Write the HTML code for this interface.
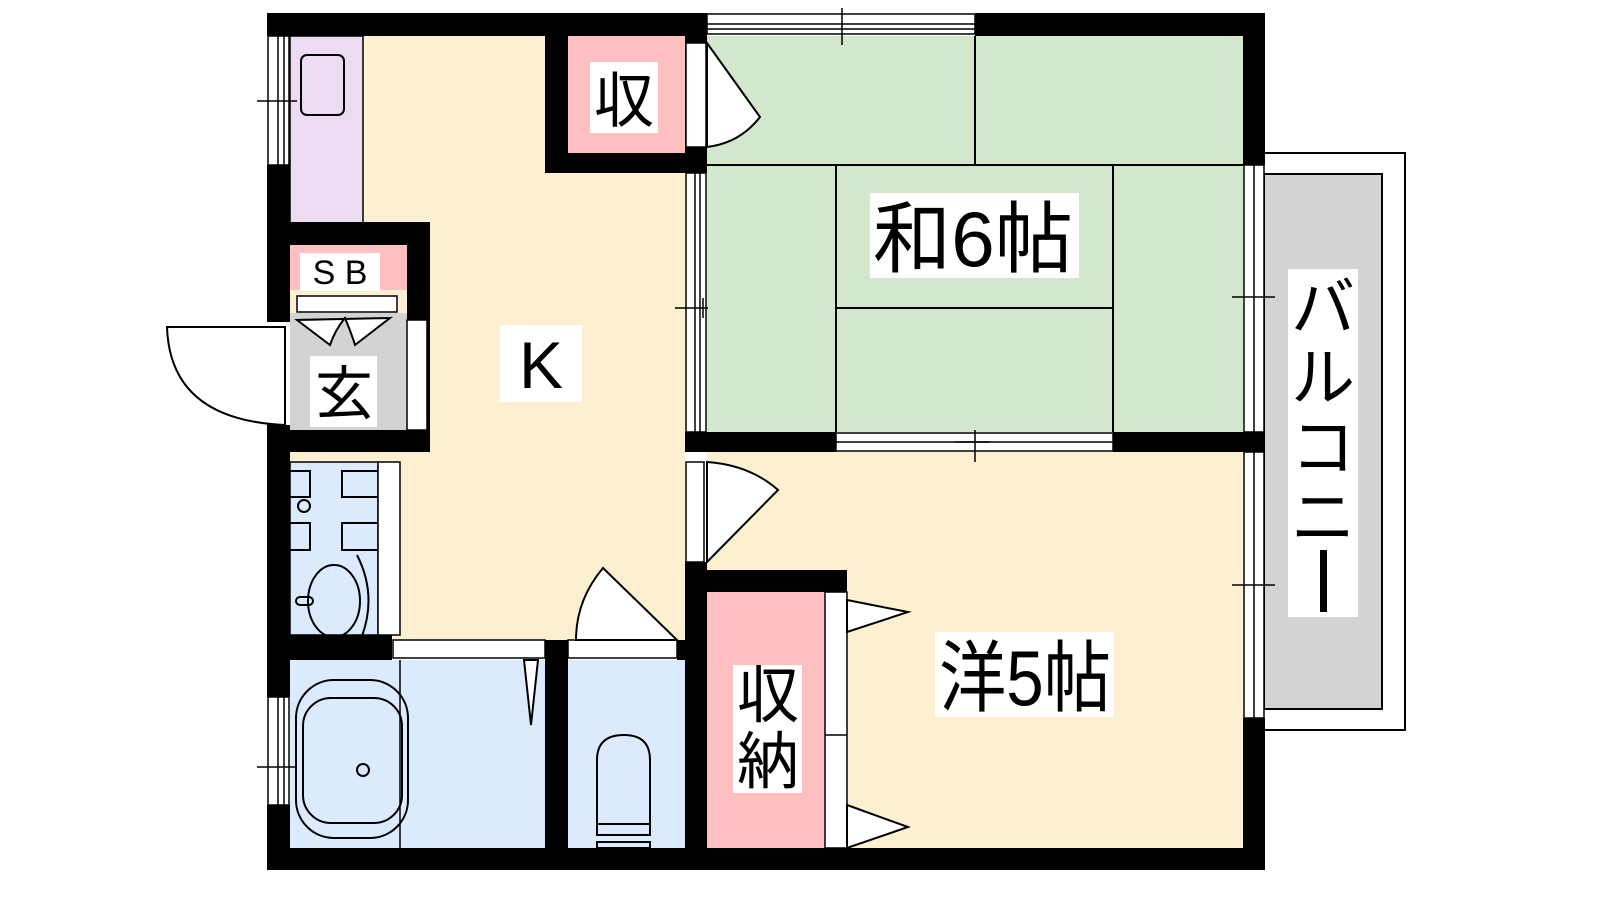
<!DOCTYPE html>
<html><head><meta charset="utf-8"><style>html,body{margin:0;padding:0;background:#fff}svg{display:block}</style></head><body>
<svg width="1600" height="900" viewBox="0 0 1600 900" xmlns="http://www.w3.org/2000/svg" font-family="'Liberation Sans','Noto Sans CJK JP',sans-serif">
<rect width="1600" height="900" fill="#fff"/>
<!-- balcony -->
<rect x="1262" y="153" width="143" height="577" fill="#fff" stroke="#000" stroke-width="2"/>
<rect x="1264" y="174" width="118" height="535" fill="#d3d3d3" stroke="#000" stroke-width="2"/>
<!-- room fills -->
<rect x="290" y="36" width="395" height="605" fill="#fdf0d0"/>
<rect x="707" y="36" width="536" height="396" fill="#d2e7cb"/>
<rect x="707" y="452" width="536" height="396" fill="#fdf0d0"/>
<rect x="290" y="36" width="73" height="189" fill="#ecdcf2" stroke="#000" stroke-width="1.5"/>
<rect x="411" y="55" width="43" height="60" rx="6" fill="none" stroke="#000" stroke-width="2" transform="translate(-110,0)"/>
<!-- tatami lines -->
<g stroke="#000" stroke-width="2">
<line x1="707" y1="165" x2="1243" y2="165"/><line x1="975" y1="36" x2="975" y2="165"/>
<line x1="836" y1="165" x2="836" y2="432"/><line x1="1113" y1="165" x2="1113" y2="432"/>
<line x1="836" y1="308" x2="1113" y2="308"/>
</g>
<!-- walls -->
<g fill="#000">
<rect x="267" y="13" width="440" height="23"/>
<rect x="975" y="13" width="290" height="23"/>
<rect x="1243" y="13" width="22" height="152"/>
<rect x="1243" y="718" width="22" height="152"/>
<rect x="267" y="848" width="998" height="22"/>
<rect x="267" y="165" width="23" height="157"/>
<rect x="267" y="425" width="23" height="272"/>
<rect x="267" y="805" width="23" height="65"/>
<rect x="545" y="36" width="162" height="137"/>
<rect x="267" y="222" width="163" height="23"/>
<rect x="407" y="222" width="23" height="230"/>
<rect x="267" y="430" width="163" height="22"/>
<rect x="685" y="432" width="151" height="20"/>
<rect x="1113" y="432" width="152" height="20"/>
<rect x="685" y="562" width="22" height="286"/>
<rect x="707" y="570" width="140" height="22"/>
<rect x="267" y="635" width="125" height="25"/>
<rect x="545" y="640" width="23" height="208"/>
<rect x="677" y="640" width="8" height="20"/>
</g>
<!-- pink closets -->
<rect x="568" y="36" width="117" height="117" fill="#fdbfbf"/>
<rect x="707" y="592" width="118" height="256" fill="#fdbfbf"/>
<rect x="290" y="245" width="117" height="45" fill="#fdbfbf"/>
<rect x="290" y="313" width="117" height="117" fill="#d3d3d3"/>
<rect x="297" y="296" width="100" height="16" fill="#fff" stroke="#000" stroke-width="1.5"/>
<!-- blue rooms -->
<rect x="290" y="462" width="88" height="173" fill="#dbeafd" stroke="#000" stroke-width="1.5"/>
<rect x="290" y="660" width="255" height="188" fill="#dbeafd"/>
<rect x="568" y="660" width="117" height="188" fill="#dbeafd"/>
<line x1="400" y1="660" x2="400" y2="848" stroke="#000" stroke-width="1.5"/>
<!-- white strips / windows -->
<g fill="#fff" stroke="#000" stroke-width="1.5">
<rect x="707" y="14" width="268" height="20"/>
<rect x="1244" y="165" width="20" height="267"/>
<rect x="1244" y="452" width="20" height="266"/>
<rect x="268" y="36" width="21" height="129"/>
<rect x="268" y="697" width="21" height="108"/>
<rect x="686" y="43" width="20" height="104"/>
<rect x="686" y="173" width="20" height="259"/>
<rect x="836" y="433" width="277" height="18"/>
<rect x="686" y="462" width="18" height="100"/>
<rect x="825" y="592" width="22" height="256"/>
<rect x="268" y="327" width="17" height="98"/>
<rect x="407" y="320" width="20" height="110"/>
<rect x="378" y="462" width="22" height="173"/>
<rect x="393" y="640" width="152" height="18"/>
<rect x="568" y="640" width="109" height="18"/>
</g>
<g stroke="#000" stroke-width="1.5" fill="none">
<line x1="707" y1="24" x2="975" y2="24"/><line x1="707" y1="29" x2="975" y2="29"/>
<line x1="1254" y1="165" x2="1254" y2="432"/><line x1="1254" y1="452" x2="1254" y2="718"/>
<line x1="278" y1="36" x2="278" y2="165"/><line x1="284" y1="36" x2="284" y2="165"/>
<line x1="278" y1="697" x2="278" y2="805"/><line x1="284" y1="697" x2="284" y2="805"/>
<line x1="695" y1="173" x2="695" y2="432"/><line x1="700" y1="173" x2="700" y2="432"/>
<line x1="836" y1="442" x2="1113" y2="442"/>
<line x1="825" y1="735" x2="847" y2="735"/>
<!-- ticks -->
<line x1="842" y1="8" x2="842" y2="45"/>
<line x1="1232" y1="297" x2="1275" y2="297"/><line x1="1232" y1="585" x2="1275" y2="585"/>
<line x1="257" y1="101" x2="297" y2="101"/><line x1="257" y1="767" x2="297" y2="767"/>
<line x1="675" y1="308" x2="708" y2="308"/><line x1="703" y1="298" x2="703" y2="318"/>
<line x1="975" y1="430" x2="975" y2="462"/><line x1="955" y1="442" x2="990" y2="442"/>
</g>
<!-- doors -->
<g fill="#fff" stroke="#000" stroke-width="2">
<path d="M707 43 L760 117 Q740 143 707 147 Z"/>
<path d="M707 462 Q750 465 778 490 L707 562 Z"/>
<path d="M285 327 L167 327 Q170 420 285 425 Z"/>
<path d="M576 640 Q576 600 603 568 L677 640 Z"/>
<path d="M847 600 L908 612 L847 632 Z"/>
<path d="M847 805 L908 827 L847 848 Z"/>
<path d="M297 320 L330 345 Q335 330 345 318 Q352 335 355 345 L390 318 Z"/>
<path d="M524 660 L531 725 L538 660 Z" />
</g>
<!-- fixtures -->
<g fill="none" stroke="#000" stroke-width="2">
<path d="M290 471 H310 V497 H290"/><path d="M378 471 H342 V497 H378"/>
<path d="M290 550 H310 V523 H290"/><path d="M378 550 H342 V523 H378"/>
<circle cx="304" cy="506" r="6"/>
<ellipse cx="334" cy="601" rx="26" ry="36"/>
<path d="M357 555 Q380 600 357 648"/>
<rect x="296" y="597" width="17" height="8" rx="4"/>
<rect x="296" y="680" width="112" height="158" rx="38"/>
<rect x="303" y="698" width="99" height="125" rx="28"/>
<circle cx="363" cy="770" r="6"/>
<path d="M597 760 Q597 735 624 735 Q650 735 650 760 V835 H597 Z"/>
<line x1="597" y1="824" x2="650" y2="824"/>
<rect x="597" y="842" width="53" height="6"/>
</g>
<!-- labels -->
<g fill="#fff">
<rect x="590" y="62" width="68" height="71"/>
<rect x="870" y="193" width="209" height="85"/>
<rect x="500" y="325" width="82" height="77"/>
<rect x="300" y="253" width="80" height="38"/>
<rect x="310" y="356" width="67" height="71"/>
<rect x="733" y="665" width="69" height="128"/>
<rect x="935" y="632" width="179" height="85"/>
<rect x="1288" y="269" width="70" height="348"/>
</g>
<g fill="#000">
<text x="624" y="122" font-size="60" text-anchor="middle">収</text>
<text x="873" y="266" font-size="78" textLength="200" lengthAdjust="spacingAndGlyphs">和6帖</text>
<text x="541" y="388" font-size="66" text-anchor="middle">K</text>
<text x="340" y="284" font-size="34" text-anchor="middle">S B</text>
<text x="344" y="414" font-size="58" text-anchor="middle">玄</text>
<text x="768" y="717" font-size="62" text-anchor="middle">収</text>
<text x="768" y="783" font-size="62" text-anchor="middle">納</text>
<text x="939" y="705" font-size="78" textLength="172" lengthAdjust="spacingAndGlyphs">洋5帖</text>
<text x="1323" y="330" font-size="64" text-anchor="middle">バ</text>
<text x="1323" y="400" font-size="64" text-anchor="middle">ル</text>
<text x="1323" y="470" font-size="64" text-anchor="middle">コ</text>
<text x="1323" y="540" font-size="64" text-anchor="middle">ニ</text>
<rect x="1320" y="550" width="7" height="62"/>
</g>
</svg>
</body></html>
